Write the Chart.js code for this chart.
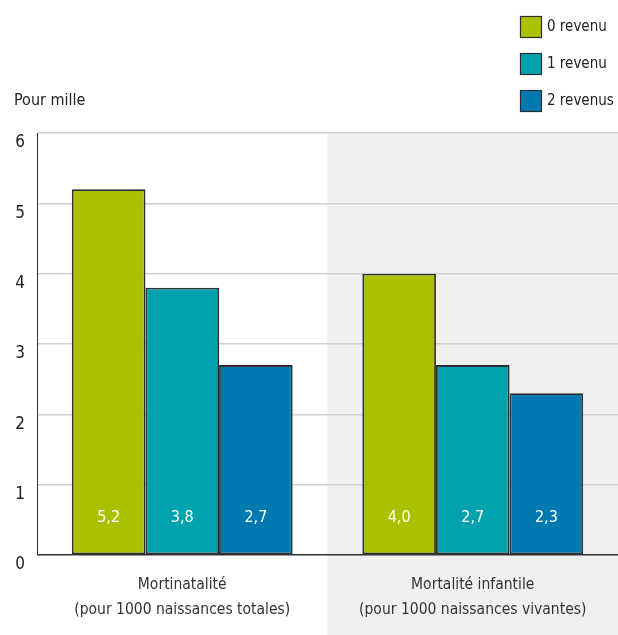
<!DOCTYPE html>
<html>
<head>
<meta charset="utf-8">
<script src="https://cdn.jsdelivr.net/npm/chart.js@4/dist/chart.umd.min.js"></script>
<style>
  html, body { margin: 0; padding: 0; background: #fff; }
  #wrap { width: 618px; height: 635px; position: relative; }
</style>
</head>
<body>
<div id="wrap"><canvas id="chart" width="618" height="635"></canvas></div>
<script>
// data
const categories = [
    ['Mortinatalité', '(pour 1000 naissances totales)'],
    ['Mortalité infantile', '(pour 1000 naissances vivantes)']
];
const seriesNames = ['0 revenu', '1 revenu', '2 revenus'];
const zeroIncome = [5.2, 4.0];
const oneIncome = [3.8, 2.7];
const twoIncomes = [2.7, 2.3];
const yTicks = [0, 1, 2, 3, 4, 5, 6];

const colors = ['#abc100', '#00a3ad', '#0079b0'];
const edge = '#2e2e2e';
const FONT = '"Liberation Sans Narrow", "DejaVu Sans Condensed", sans-serif';

function fmt(v) {
    return v.toFixed(1).replace('.', ',');
}

// light band behind the second group + values, legend and unit label
const decorations = {
    id: 'decorations',
    beforeDraw(chart) {
        const { ctx, chartArea, scales } = chart;
        const mid = (scales.x.getPixelForValue(0) + scales.x.getPixelForValue(1)) / 2;
        ctx.save();
        ctx.fillStyle = '#f0f0f0';
        ctx.fillRect(mid, chartArea.top, chartArea.right - mid, chart.height - chartArea.top);
        ctx.restore();
    },
    afterDatasetsDraw(chart) {
        const { ctx, scales } = chart;
        ctx.save();
        ctx.fillStyle = '#ffffff';
        ctx.font = '16px ' + FONT;
        ctx.textAlign = 'center';
        ctx.textBaseline = 'middle';
        chart.data.datasets.forEach((ds, i) => {
            chart.getDatasetMeta(i).data.forEach((bar, j) => {
                ctx.fillText(fmt(ds.data[j]), bar.x, scales.y.bottom - 37);
            });
        });
        ctx.restore();
    },
    afterDraw(chart) {
        const { ctx } = chart;
        ctx.save();
        ctx.textBaseline = 'middle';
        ctx.fillStyle = '#222';
        ctx.font = '16px ' + FONT;
        ctx.fillText('Pour mille', 14, 101);
        ctx.font = '15px ' + FONT;
        chart.data.datasets.forEach((ds, i) => {
            const y = 16 + i * 37;
            ctx.fillStyle = ds.backgroundColor;
            ctx.fillRect(520.5, y + 0.5, 21, 21);
            ctx.strokeStyle = edge;
            ctx.lineWidth = 1.2;
            ctx.strokeRect(520.5, y + 0.5, 21, 21);
            ctx.fillStyle = '#222';
            ctx.fillText(ds.label, 547, y + 11);
        });
        ctx.restore();
    }
};

new Chart(document.getElementById('chart'), {
    type: 'bar',
    data: {
        labels: categories,
        datasets: [zeroIncome, oneIncome, twoIncomes].map((d, i) => ({
            label: seriesNames[i],
            data: d,
            backgroundColor: colors[i],
            borderColor: edge,
            borderWidth: 1.8,
            borderSkipped: false,
            categoryPercentage: 0.76,
            barPercentage: 1
        }))
    },
    options: {
        responsive: false,
        animation: false,
        layout: { padding: { top: 133, right: 0, bottom: 0, left: 0 } },
        plugins: {
            legend: { display: false },
            tooltip: { enabled: false }
        },
        scales: {
            x: {
                afterFit: s => { s.height = 80; },
                grid: { display: false },
                border: { display: false },
                ticks: {
                    color: '#333',
                    font: { family: FONT, size: 15.5, lineHeight: 1.6 },
                    padding: 10,
                    maxRotation: 0
                }
            },
            y: {
                min: 0,
                max: 6,
                afterFit: s => { s.width = 37; },
                afterBuildTicks: s => { s.ticks = yTicks.map(v => ({ value: v })); },
                grid: {
                    drawTicks: false,
                    color: c => c.tick && c.tick.value === 0 ? '#333' : '#d0d0d0',
                    lineWidth: c => c.tick && c.tick.value === 0 ? 1.5 : 1.5
                },
                border: { color: '#333', width: 1 },
                ticks: {
                    color: '#222',
                    font: { family: FONT, size: 17 },
                    padding: 12,
                    labelOffset: 10
                }
            }
        }
    },
    plugins: [decorations]
});
</script>
</body>
</html>
